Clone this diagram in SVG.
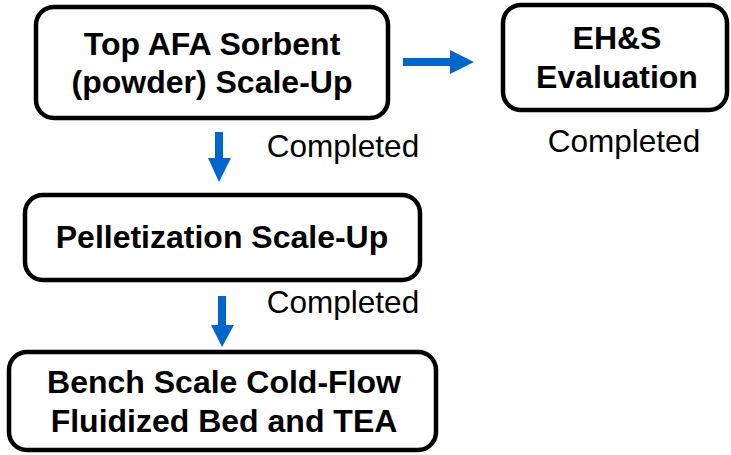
<svg xmlns="http://www.w3.org/2000/svg" width="731" height="455" viewBox="0 0 731 455">
  <style>
    .box { fill: #ffffff; stroke: #000000; stroke-width: 4.5; }
    .title { font-family: "Liberation Sans", Arial, sans-serif; font-weight: bold; font-size: 32px; fill: #000000; text-anchor: middle; }
    .note { font-family: "Liberation Sans", Arial, sans-serif; font-size: 31.5px; fill: #000000; text-anchor: middle; }
    .arrow { fill: #0066CC; }
  </style>
  <rect width="731" height="455" fill="#ffffff"/>

  <g id="connectors">
    <!-- powder scale-up to pelletization -->
    <polygon class="arrow" points="215,132 223,132 223,158 231,158 219,182 208,158 215,158"/>
    <!-- powder scale-up to EH&S -->
    <polygon class="arrow" points="403,58 450,58 450,50 474,62 450,74 450,66 403,66"/>
    <!-- pelletization to bench scale -->
    <polygon class="arrow" points="218,296 226,296 226,325 234,325 222,347 211,325 218,325"/>
  </g>

  <g id="node-powder">
    <rect class="box" x="36" y="7" width="352" height="111" rx="18"/>
    <text class="title" x="212" y="55">Top AFA Sorbent</text>
    <text class="title" x="212" y="93">(powder) Scale-Up</text>
  </g>

  <g id="node-ehs">
    <rect class="box" x="503" y="5" width="224" height="105" rx="18"/>
    <text class="title" x="617" y="49">EH&amp;S</text>
    <text class="title" x="617" y="88">Evaluation</text>
  </g>

  <g id="node-pellet">
    <rect class="box" x="25" y="195" width="395" height="85" rx="18"/>
    <text class="title" x="222" y="248">Pelletization Scale-Up</text>
  </g>

  <g id="node-bench">
    <rect class="box" x="9" y="352" width="427" height="98" rx="18"/>
    <text class="title" x="224" y="393">Bench Scale Cold-Flow</text>
    <text class="title" x="224" y="432">Fluidized Bed and TEA</text>
  </g>

  <g id="status-labels">
    <text class="note" x="343" y="157">Completed</text>
    <text class="note" x="624" y="152">Completed</text>
    <text class="note" x="343" y="313">Completed</text>
  </g>
</svg>
